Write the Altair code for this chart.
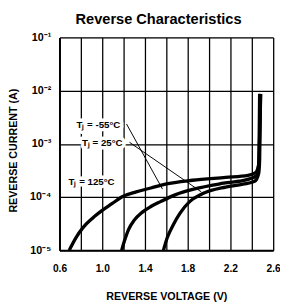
import json
import altair as alt
import pandas as pd

# ---------------- data ----------------
title_text = "Reverse Characteristics"
x_title = "REVERSE VOLTAGE (V)"
y_title = "REVERSE CURRENT (A)"

x_grid = [0.6, 0.8, 1.0, 1.2, 1.4, 1.6, 1.8, 2.0, 2.2, 2.4, 2.6]
x_tick_labels = ["0.6", "1.0", "1.4", "1.8", "2.2", "2.6"]
y_ticks = [1e-5, 1e-4, 1e-3, 1e-2, 1e-1]
y_tick_labels = ["10⁻⁵", "10⁻⁴", "10⁻³", "10⁻²", "10⁻¹"]

series_names = ["Tⱼ = 125°C", "Tⱼ = 25°C", "Tⱼ = -55°C"]

v_125 = [0.691, 0.755, 0.818, 0.909, 1.000, 1.091, 1.182, 1.318, 1.455, 1.591,
         1.845, 2.155, 2.364, 2.436, 2.464, 2.473]
i_125 = [1.0e-5, 1.73e-5, 2.63e-5, 4.0e-5, 5.6e-5, 7.5e-5, 1.0e-4, 1.25e-4, 1.48e-4, 1.75e-4,
         2.07e-4, 2.34e-4, 2.55e-4, 2.89e-4, 4.05e-4, 8.7e-3]

v_25 = [1.182, 1.209, 1.245, 1.300, 1.373, 1.455, 1.545, 1.682, 1.864, 2.136,
        2.364, 2.445, 2.464, 2.482]
i_25 = [1.0e-5, 1.52e-5, 2.42e-5, 3.68e-5, 5.15e-5, 6.64e-5, 8.2e-5, 1.10e-4, 1.42e-4, 1.82e-4,
        2.15e-4, 2.55e-4, 4.05e-4, 8.7e-3]

v_m55 = [1.573, 1.609, 1.664, 1.727, 1.818, 1.936, 2.155, 2.318, 2.427, 2.464, 2.473, 2.482]
i_m55 = [1.0e-5, 1.73e-5, 2.99e-5, 4.94e-5, 8.2e-5, 1.15e-4, 1.54e-4, 1.75e-4, 1.98e-4,
         2.77e-4, 5.0e-4, 8.7e-3]

# annotation labels (data coordinates)
label_text = ["Tⱼ = -55°C", "Tⱼ = 25°C", "Tⱼ = 125°C"]
label_v = [0.964, 1.00, 0.90]
label_i = [2.27e-3, 1.02e-3, 1.9e-4]

# leader lines (start -> end, data coordinates)
leader_id = ["m55", "m55", "p25", "p25"]
leader_v = [1.227, 1.564, 1.255, 1.927]
leader_i = [2.37e-3, 1.41e-4, 1.07e-3, 1.25e-4]

# ---------------- tables ----------------
rows = []
for name, vs, is_ in [(series_names[0], v_125, i_125),
                      (series_names[1], v_25, i_25),
                      (series_names[2], v_m55, i_m55)]:
    for k, (v, i) in enumerate(zip(vs, is_)):
        rows.append({"series": name, "V": v, "I": i, "order": k})
curves = pd.DataFrame(rows)
labels = pd.DataFrame({"text": label_text, "V": label_v, "I": label_i})
leaders = pd.DataFrame({"id": leader_id, "V": leader_v, "I": leader_i})

FONT = "Liberation Sans"

x_scale = alt.Scale(domain=[0.6, 2.6], nice=False, zero=False)
y_scale = alt.Scale(type="log", domain=[1e-5, 1e-1], nice=False)

x_label_expr = ("indexof(%s, format(datum.value, '.1f')) >= 0 ? format(datum.value, '.1f') : ''"
                % json.dumps(x_tick_labels))
y_label_expr = "%s[round(log(datum.value) / LN10) + 5]" % json.dumps(y_tick_labels, ensure_ascii=False)

x_axis = alt.Axis(values=x_grid, grid=True, gridColor="black", gridWidth=1.3, gridOpacity=1,
                  ticks=False, domain=True, domainColor="black", domainWidth=2,
                  labelExpr=x_label_expr, labelFont=FONT, labelFontSize=10.5, labelFontWeight="bold",
                  labelColor="black", labelPadding=14, labelFlush=False,
                  title=x_title, titleFont=FONT, titleFontSize=11, titleFontWeight="bold",
                  titleColor="black", titleY=48, titleBaseline="middle")
y_axis = alt.Axis(values=y_ticks, grid=True, gridColor="black", gridWidth=1.3, gridOpacity=1,
                  ticks=False, domain=True, domainColor="black", domainWidth=2,
                  labelExpr=y_label_expr, labelFont=FONT, labelFontSize=11, labelFontWeight="bold",
                  labelColor="black", labelPadding=9, labelBaseline="middle",
                  title=y_title, titleFont=FONT, titleFontSize=11, titleFontWeight="bold",
                  titleColor="black", titleAngle=270, titleX=-47, titleY=116,
                  titleAlign="center", titleBaseline="middle")

X = alt.X("V:Q", scale=x_scale, axis=x_axis)
Y = alt.Y("I:Q", scale=y_scale, axis=y_axis)

base_curves = alt.Chart(curves).mark_line(color="black", strokeWidth=3.4, interpolate="monotone",
                                          clip=True).encode(
    x=X, y=Y, detail="series:N", order="order:Q")

halo = alt.Chart(labels).mark_text(font=FONT, fontSize=10, fontWeight="bold", color="white",
                                   stroke="white", strokeWidth=7, strokeJoin="round").encode(
    x=X, y=Y, text="text:N")
texts = alt.Chart(labels).mark_text(font=FONT, fontSize=10, fontWeight="bold", color="black").encode(
    x=X, y=Y, text="text:N")

leader_lines = alt.Chart(leaders).mark_line(color="black", strokeWidth=1).encode(
    x=X, y=Y, detail="id:N")

chart = alt.layer(base_curves, halo, leader_lines, texts).properties(
    width=220, height=219,
    title=alt.TitleParams(title_text, font=FONT, fontSize=15, fontWeight="bold", color="black",
                          anchor="middle", frame="group", dx=-8, offset=5),
    autosize=alt.AutoSizeParams(type="none"),
    padding={"left": 53, "top": 26, "right": 7, "bottom": 51},
).configure_view(stroke="black", strokeWidth=2).configure(background="white")

chart.save("out.html", embed_options={"renderer": "svg", "actions": False})
